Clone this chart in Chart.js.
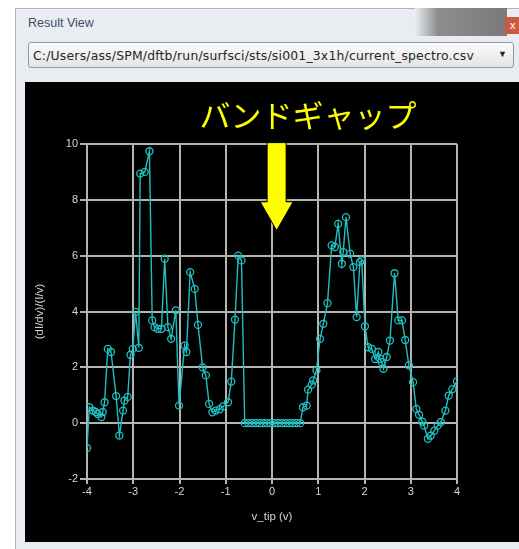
<!DOCTYPE html>
<html>
<head>
<meta charset="utf-8">
<script src="https://cdn.jsdelivr.net/npm/chart.js@4.4.1/dist/chart.umd.min.js"></script>
<style>
  body { margin: 0; width: 519px; height: 549px; overflow: hidden; background: #fff; position: relative; font-family: "Liberation Sans", "DejaVu Sans", sans-serif; }
  .frame { position: absolute; left: 15px; top: 8px; width: 510px; height: 545px; background: #e9edf2; border: 1px solid #aab4c0; }
  .titletext { position: absolute; left: 28px; top: 16px; font-size: 12.5px; color: #3d4f66; }
  .blur { position: absolute; left: 415px; top: 8px; width: 92px; height: 28px; background: linear-gradient(90deg, #e9edf2, #8d8d8d 25%, #7a7a7a); }
  .close { position: absolute; left: 505px; top: 17px; width: 20px; height: 17px; background: #cc5a42; color: #fff; font-size: 11px; line-height: 16px; padding-left: 5px; box-sizing: border-box; }
  .combo { position: absolute; left: 28px; top: 42px; width: 486px; height: 26px; box-sizing: border-box; border: 1px solid #8e99a6; border-radius: 3px; background: linear-gradient(#fbfbfb, #e4e4e4); overflow: hidden; }
  .combo span { position: absolute; left: 4px; top: 5px; width: 462px; white-space: nowrap; overflow: hidden; font-family: "DejaVu Sans", sans-serif; font-size: 12.4px; color: #262626; letter-spacing: 0.2px; }
  .combo b { position: absolute; right: 6px; top: 6px; font-size: 9px; color: #222; }
  .panel { position: absolute; left: 25px; top: 82px; width: 494px; height: 460px; background: #000; }
</style>
</head>
<body>
<div class="frame"></div>
<div class="blur"></div>
<div class="close">x</div>
<div class="titletext">Result View</div>
<div class="combo"><span>C:/Users/ass/SPM/dftb/run/surfsci/sts/si001_3x1h/current_spectro.csv</span><b>&#9660;</b></div>
<div class="panel"><canvas id="chartSpectro" width="494" height="460"></canvas></div>
<script>
// tip voltage (v) and normalised conductance
const vTip = [-4.0, -3.95, -3.87, -3.81, -3.77, -3.69, -3.66, -3.62, -3.55, -3.48,
  -3.37, -3.30, -3.22, -3.19, -3.12, -3.06, -3.01, -2.95, -2.88, -2.85,
  -2.75, -2.65, -2.59, -2.54, -2.47, -2.39, -2.32, -2.25, -2.18, -2.08,
  -2.01, -1.89, -1.85, -1.77, -1.67, -1.60, -1.50, -1.43, -1.36, -1.29,
  -1.22, -1.13, -1.06, -0.95, -0.88, -0.80, -0.73, -0.66,
  -0.59, -0.51, -0.43, -0.35, -0.27, -0.19, -0.11, -0.03, 0.05, 0.13,
  0.21, 0.29, 0.37, 0.45, 0.53, 0.61,
  0.67, 0.75, 0.78, 0.86, 0.89, 0.96, 1.04, 1.11, 1.20, 1.29,
  1.36, 1.43, 1.51, 1.54, 1.60, 1.69, 1.76, 1.83, 1.90, 1.94,
  2.01, 2.08, 2.16, 2.23, 2.30, 2.34, 2.37, 2.41, 2.48, 2.55,
  2.65, 2.73, 2.81, 2.88, 2.96, 3.05, 3.12, 3.18, 3.25, 3.29,
  3.37, 3.43, 3.51, 3.58, 3.65, 3.75, 3.82, 3.90, 4.0]
const dIdV = [-0.89, 0.57, 0.45, 0.40, 0.33, 0.22, 0.40, 0.75, 2.66, 2.55,
  0.97, -0.44, 0.45, 0.81, 0.94, 2.45, 2.66, 3.99, 2.70, 8.94,
  9.00, 9.74, 3.68, 3.44, 3.38, 3.38, 5.89, 3.44, 3.02, 4.04,
  0.63, 2.78, 2.55, 5.41, 4.81, 3.52, 2.00, 1.71, 0.69, 0.39,
  0.45, 0.50, 0.60, 0.75, 1.49, 3.71, 6.00, 5.83,
  0, 0, 0, 0, 0, 0, 0, 0, 0, 0,
  0, 0, 0, 0, 0, 0,
  0.57, 0.63, 1.20, 1.38, 1.53, 1.89, 3.02, 3.56, 4.30, 6.37,
  6.31, 7.14, 5.71, 6.13, 7.38, 6.07, 5.59, 3.80, 5.77, 5.83,
  3.47, 2.72, 2.66, 2.30, 2.55, 2.30, 2.19, 1.95, 2.37, 2.96,
  5.37, 3.68, 3.68, 2.98, 2.07, 1.47, 0.51, 0.30, 0.05, -0.09,
  -0.56, -0.45, -0.27, -0.09, 0.04, 0.45, 0.99, 1.22, 1.50]
const gapLabel = 'バンドギャップ'

const gridColor = '#b4b4b4'
const tickColor = '#d6d6d6'
const lineColor = '#20bfc0'

// yellow text + arrow over the gap
const gapMarker = {
    id: 'gapMarker',
    afterDatasetsDraw(chart) {
        const c = chart.ctx;
        const x = chart.scales.x.getPixelForValue(0.1);
        const yTop = chart.scales.y.getPixelForValue(10.05);
        const yHead = chart.scales.y.getPixelForValue(7.93);
        const yTip = chart.scales.y.getPixelForValue(6.9);
        c.save();
        c.beginPath();
        c.moveTo(x - 9.5, yTop);
        c.lineTo(x + 9.5, yTop);
        c.lineTo(x + 9.5, yHead);
        c.lineTo(x + 16.5, yHead);
        c.lineTo(x, yTip);
        c.lineTo(x - 16.5, yHead);
        c.lineTo(x - 9.5, yHead);
        c.closePath();
        c.fillStyle = '#ffff00';
        c.strokeStyle = '#000';
        c.lineWidth = 1;
        c.fill();
        c.stroke();
        c.font = '31px "Noto Sans CJK JP"';
        c.fillStyle = '#ffff00';
        c.textAlign = 'center';
        c.textBaseline = 'middle';
        c.fillText(gapLabel, 283, 33);
        c.restore();
    }
};

const points = vTip.map((v, i) => ({x: v, y: dIdV[i]}))

var ctxSpectro = document.getElementById('chartSpectro').getContext('2d');
var chartSpectro = new Chart(ctxSpectro, {
    type: 'scatter',
    data: {
        datasets: [{
            data: points,
            showLine: true,
            borderColor: lineColor,
            borderWidth: 1.4,
            pointRadius: 3.5,
            pointBorderWidth: 1.3,
            pointBorderColor: lineColor,
            pointBackgroundColor: 'rgba(0,0,0,0)',
            tension: 0
        }]
    },
    options: {
        responsive: false,
        animation: false,
        layout: { padding: { left: 0, right: 62, top: 62, bottom: 0 } },
        plugins: { legend: { display: false }, tooltip: { enabled: false } },
        scales: {
            x: {
                type: 'linear', min: -4, max: 4,
                afterFit: (s) => { s.height = 63 },
                ticks: { stepSize: 1, color: tickColor, font: { size: 11, family: 'Liberation Sans' }, padding: 1, maxRotation: 0 },
                grid: { color: gridColor, lineWidth: 2, tickLength: 5 },
                border: { color: gridColor, width: 2 },
                title: { display: true, text: 'v_tip (v)', color: tickColor, font: { size: 11.5, family: 'Liberation Sans' }, padding: 18 }
            },
            y: {
                min: -2, max: 10,
                afterFit: (s) => { s.width = 62 },
                ticks: { stepSize: 2, color: tickColor, font: { size: 11, family: 'Liberation Sans' }, padding: 2 },
                grid: { color: gridColor, lineWidth: 2, tickLength: 7 },
                border: { color: gridColor, width: 2 },
                title: { display: true, text: '(dI/dv)/(I/v)', color: tickColor, font: { size: 11.5, family: 'Liberation Sans' }, padding: 8 }
            }
        }
    },
    plugins: [gapMarker]
});
</script>
</body>
</html>
